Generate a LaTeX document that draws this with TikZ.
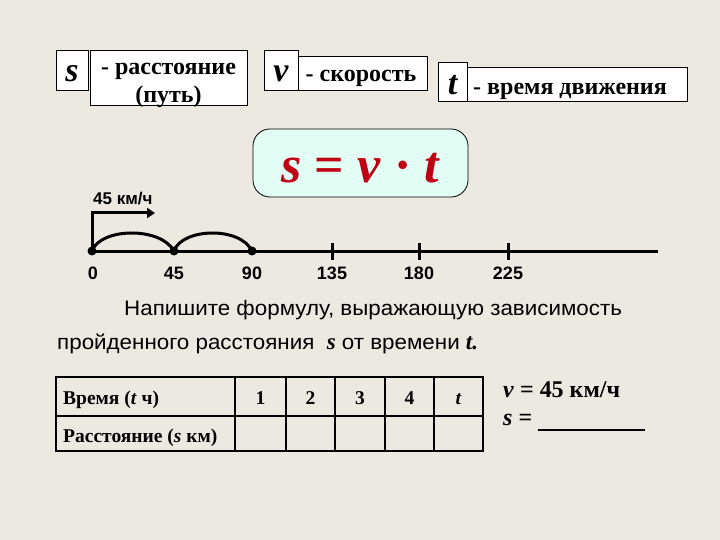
\documentclass[tikz,border=0pt]{standalone}
\usepackage{fontspec}
\setmainfont{Liberation Serif}
\setsansfont{Liberation Sans}
\newfontfamily\parafont[FakeStretch=1.065]{Liberation Sans}
\usetikzlibrary{arrows.meta}
\definecolor{bgbeige}{HTML}{ECE9E0}
\definecolor{mintfill}{HTML}{E2FDF3}
\definecolor{formred}{HTML}{C00012}
\tikzset{
  lblbox/.style={draw, fill=white, line width=0.8pt, inner sep=0pt, anchor=north west},
  lbltext/.style={font=\fontsize{24}{28}\selectfont\bfseries, inner sep=0pt, anchor=base},
  letter/.style={font=\fontsize{34}{34}\selectfont\bfseries\itshape, inner sep=0pt, anchor=base},
  numline/.style={line width=3pt},
  numtick/.style={line width=3pt},
  numlbl/.style={font=\fontsize{18}{18}\selectfont\sffamily\bfseries, inner sep=0pt, anchor=base},
  dot/.style={circle, fill=black, inner sep=0pt, minimum size=9pt},
  para/.style={font=\fontsize{21}{21}\parafont, inner sep=0pt, anchor=base west},
  tbl/.style={font=\fontsize{19.5}{19.5}\selectfont\bfseries, inner sep=0pt, anchor=base}
}
\begin{document}
\begin{tikzpicture}[x=1pt, y=-1pt]
  \fill[bgbeige] (0,0) rectangle (720,540);
  \useasboundingbox (0,0) rectangle (720,540);

  % s, v, t
  \node[lblbox, minimum width=32pt, minimum height=40pt] (sbox) at (56,50) {};
  \node[letter] (sname) at (72,82) {s};
  \node[lblbox, minimum width=157pt, minimum height=55pt] (sdesc) at (90,50) {};
  \node[lbltext] (sdesc1) at (168.5,75) {- расстояние};
  \node[lbltext] (sdesc2) at (168.5,103) {(путь)};

  \node[lblbox, minimum width=34pt, minimum height=40pt] (vbox) at (264,50) {};
  \node[letter] (vname) at (281,82) {v};
  \node[lblbox, minimum width=129pt, minimum height=34pt] (vdesc) at (298,56) {};
  \node[lbltext] (vdesc1) at (361,82) {- скорость};

  \node[lblbox, minimum width=29pt, minimum height=39pt] (tbox) at (438,62) {};
  \node[letter] (tname) at (452.5,95) {t};
  \node[lblbox, minimum width=220pt, minimum height=34pt] (tdesc) at (467,67) {};
  \node[lbltext] (tdesc1) at (570,95) {- время движения};

  % formula
  \node[draw, line width=0.8pt, fill=mintfill, rounded corners=17pt, minimum width=215pt, minimum height=68pt] (formula) at (360.5,163) {};
  \node[inner sep=0pt, anchor=base, text=formred, font=\fontsize{52}{52}\selectfont\bfseries] (formtxt) at (361,183) {\textit{s} = \textit{v} · \textit{t}};

  % number line
  \coordinate (nlstart) at (92,251);
  \coordinate (nlend) at (658,251);
  \draw[numline] (nlstart) -- (nlend);
  \node[dot] (p0) at (92,251) {};
  \node[dot] (p45) at (174,251) {};
  \node[dot] (p90) at (252,251) {};
  \draw[line width=3pt] (p0.center) .. controls (100,228) and (160,226) .. (p45.center);
  \draw[line width=3pt] (p45.center) .. controls (182,228) and (240,226) .. (p90.center);
  \coordinate (vtip) at (155,213);
  \draw[line width=3pt, -{Triangle[length=8pt,width=10pt]}] (p0.center) |- (vtip);
  \node[font=\fontsize{17}{17}\selectfont\sffamily\bfseries, inner sep=0pt, anchor=base west] (speed) at (93,205) {45 км/ч};

  \node[numlbl] (n0) at (93,279) {0};
  \node[numlbl] (n45) at (174,279) {45};
  \node[numlbl] (n90) at (252,279) {90};
  \foreach \x/\v in {332/135, 419/180, 508/225} {
    \draw[numtick] (\x,243) -- (\x,260);
    \node[numlbl] (n\v) at (\x,279) {\v};
  }

  % task
  \node[para] (task1) at (124,315) {Напишите формулу, выражающую зависимость};
  \node[para] (task2) at (57,349) {пройденного расстояния \ {\fontsize{23}{23}\rmfamily\bfseries\itshape s} от времени {\fontsize{23}{23}\rmfamily\bfseries\itshape t.}};

  % table
  \draw[line width=2pt] (56,377) rectangle (483,451);
  \draw[line width=2pt] (56,416) -- (483,416);
  \foreach \x in {235,286,335,385,434} \draw[line width=2pt] (\x,377) -- (\x,451);
  \node[tbl, anchor=base west] (trow1) at (63,404) {Время (\textit{t} ч)};
  \node[tbl, anchor=base west] (trow2) at (63,442) {Расстояние (\textit{s} км)};
  \node[tbl] (c1) at (260.5,404) {1};
  \node[tbl] (c2) at (310.5,404) {2};
  \node[tbl] (c3) at (360,404) {3};
  \node[tbl] (c4) at (409.5,404) {4};
  \node[tbl] (ct) at (458.5,404) {\textit{t}};

  % answer
  \node[inner sep=0pt, anchor=base west, font=\fontsize{24}{24}\selectfont\bfseries] (vval) at (503,397) {\textit{v} = 45 км/ч};
  \node[inner sep=0pt, anchor=base west, font=\fontsize{24}{24}\selectfont\bfseries] (sval) at (503,425) {\textit{s} =};
  \coordinate (blankl) at (538,430);
  \coordinate (blankr) at (645,430);
  \draw[line width=2pt] (blankl) -- (blankr);
\end{tikzpicture}
\end{document}
